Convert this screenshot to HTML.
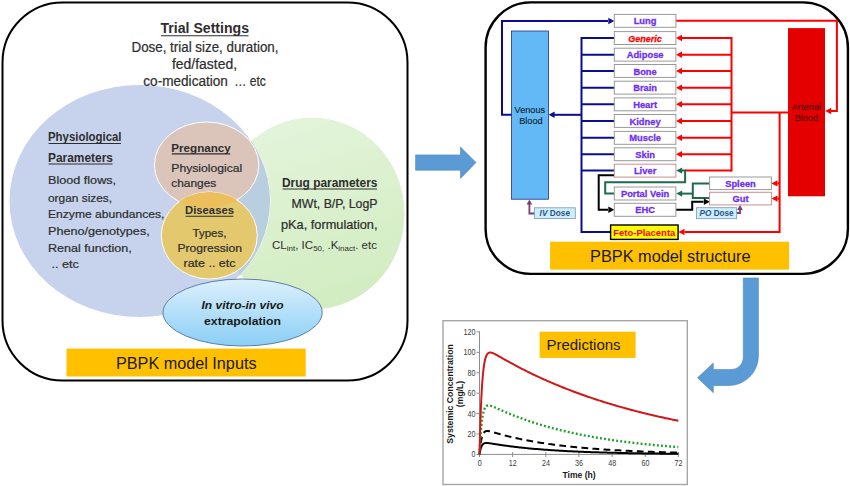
<!DOCTYPE html>
<html><head><meta charset="utf-8"><style>
html,body{margin:0;padding:0;background:#fff;}
svg{display:block;font-family:"Liberation Sans", sans-serif;}
.cal{stroke:#2E2E2E;stroke-width:0.22px;}
</style></head><body>
<svg width="850" height="486" viewBox="0 0 850 486">
<rect x="2.5" y="2.5" width="405" height="378" rx="60" ry="60" fill="#fff" stroke="#000" stroke-width="2"/>
<defs><clipPath id="cBlue"><ellipse cx="139.5" cy="201" rx="130.5" ry="116.5"/></clipPath><clipPath id="cPink"><ellipse cx="206.6" cy="165" rx="52.2" ry="43"/></clipPath><linearGradient id="gGreen" x1="0" y1="0" x2="0.3" y2="1"><stop offset="0" stop-color="#E5F5DD"/><stop offset="1" stop-color="#D3EDC3"/></linearGradient><linearGradient id="gIV" x1="0" y1="0" x2="0" y2="1"><stop offset="0" stop-color="#DDF0FC"/><stop offset="1" stop-color="#8ACFF6"/></linearGradient></defs>
<ellipse cx="312" cy="213.6" rx="93" ry="96.4" fill="url(#gGreen)" stroke="#fff" stroke-width="1"/>
<ellipse cx="139.5" cy="201" rx="130.5" ry="116.5" fill="#C7D3EC" stroke="#fff" stroke-width="1"/>
<ellipse cx="312" cy="213.6" rx="93" ry="96.4" fill="#B9CEDF" clip-path="url(#cBlue)"/>
<ellipse cx="206.6" cy="165" rx="52.2" ry="43" fill="#DBC5BB" stroke="#fff" stroke-width="1"/>
<ellipse cx="209.3" cy="235.5" rx="48" ry="43.5" fill="#E3C86E" stroke="#fff" stroke-width="1"/>
<ellipse cx="209.3" cy="235.5" rx="48" ry="43.5" fill="#EDBE5C" clip-path="url(#cPink)"/>
<ellipse cx="242.6" cy="312.5" rx="79.6" ry="33.5" fill="url(#gIV)" stroke="#5C7FA6" stroke-width="1"/>
<rect x="66.5" y="348.6" width="239.2" height="27.9" fill="#FFC000"/>
<text x="160.5" y="33.3" font-size="14.62" font-weight="bold" font-style="normal" fill="#2E2E2E" text-anchor="start" textLength="88.5" lengthAdjust="spacingAndGlyphs">Trial Settings</text>
<line x1="161" y1="35.8" x2="248.5" y2="35.8" stroke="#2E2E2E" stroke-width="1.1"/>
<text x="131.5" y="51.7" font-size="14.22" font-weight="normal" font-style="normal" fill="#2E2E2E" text-anchor="start" textLength="147.0" lengthAdjust="spacingAndGlyphs" class="cal">Dose, trial size, duration,</text>
<text x="172.0" y="68.9" font-size="14.22" font-weight="normal" font-style="normal" fill="#2E2E2E" text-anchor="start" textLength="65.0" lengthAdjust="spacingAndGlyphs" class="cal">fed/fasted,</text>
<text x="143.3" y="86.3" font-size="14.22" font-weight="normal" font-style="normal" fill="#2E2E2E" text-anchor="start" textLength="84.6" lengthAdjust="spacingAndGlyphs" class="cal">co-medication</text>
<text x="234.3" y="86.3" font-size="14.22" font-weight="normal" font-style="normal" fill="#2E2E2E" text-anchor="start" textLength="31.6" lengthAdjust="spacingAndGlyphs" class="cal">… etc</text>
<text x="48.0" y="141.4" font-size="11.95" font-weight="bold" font-style="normal" fill="#2E2E2E" text-anchor="start" textLength="73.5" lengthAdjust="spacingAndGlyphs">Physiological</text>
<line x1="48.6" y1="143.5" x2="121" y2="143.5" stroke="#2E2E2E" stroke-width="1.1"/>
<text x="48.0" y="162.0" font-size="11.95" font-weight="bold" font-style="normal" fill="#2E2E2E" text-anchor="start" textLength="65.0" lengthAdjust="spacingAndGlyphs">Parameters</text>
<line x1="48.6" y1="164" x2="112.5" y2="164" stroke="#2E2E2E" stroke-width="1.1"/>
<text x="48.0" y="184.1" font-size="11.75" font-weight="normal" font-style="normal" fill="#2E2E2E" text-anchor="start" textLength="68.1" lengthAdjust="spacingAndGlyphs" class="cal">Blood flows,</text>
<text x="48.0" y="201.5" font-size="11.75" font-weight="normal" font-style="normal" fill="#2E2E2E" text-anchor="start" textLength="64.1" lengthAdjust="spacingAndGlyphs" class="cal">organ sizes,</text>
<text x="48.0" y="218.1" font-size="11.75" font-weight="normal" font-style="normal" fill="#2E2E2E" text-anchor="start" textLength="116.5" lengthAdjust="spacingAndGlyphs" class="cal">Enzyme abundances,</text>
<text x="48.0" y="234.8" font-size="11.75" font-weight="normal" font-style="normal" fill="#2E2E2E" text-anchor="start" textLength="101.7" lengthAdjust="spacingAndGlyphs" class="cal">Pheno/genotypes,</text>
<text x="48.0" y="251.5" font-size="11.75" font-weight="normal" font-style="normal" fill="#2E2E2E" text-anchor="start" textLength="83.8" lengthAdjust="spacingAndGlyphs" class="cal">Renal function,</text>
<text x="51.5" y="267.8" font-size="11.75" font-weight="normal" font-style="normal" fill="#2E2E2E" text-anchor="start" textLength="27.3" lengthAdjust="spacingAndGlyphs" class="cal">.. etc</text>
<text x="171.3" y="151.7" font-size="11.53" font-weight="bold" font-style="normal" fill="#2E2E2E" text-anchor="start" textLength="59.5" lengthAdjust="spacingAndGlyphs">Pregnancy</text>
<line x1="171.8" y1="153.9" x2="230.2" y2="153.9" stroke="#2E2E2E" stroke-width="1.1"/>
<text x="171.3" y="172.4" font-size="11.53" font-weight="normal" font-style="normal" fill="#2E2E2E" text-anchor="start" textLength="71.0" lengthAdjust="spacingAndGlyphs" class="cal">Physiological</text>
<text x="171.3" y="186.5" font-size="11.53" font-weight="normal" font-style="normal" fill="#2E2E2E" text-anchor="start" textLength="45.0" lengthAdjust="spacingAndGlyphs" class="cal">changes</text>
<text x="185.0" y="213.9" font-size="11.53" font-weight="bold" font-style="normal" fill="#2E2E2E" text-anchor="start" textLength="49.0" lengthAdjust="spacingAndGlyphs">Diseases</text>
<line x1="185.6" y1="216.2" x2="233.4" y2="216.2" stroke="#2E2E2E" stroke-width="1.1"/>
<text x="192.5" y="237.0" font-size="11.53" font-weight="normal" font-style="normal" fill="#2E2E2E" text-anchor="start" textLength="34.0" lengthAdjust="spacingAndGlyphs" class="cal">Types,</text>
<text x="177.4" y="251.8" font-size="11.53" font-weight="normal" font-style="normal" fill="#2E2E2E" text-anchor="start" textLength="64.5" lengthAdjust="spacingAndGlyphs" class="cal">Progression</text>
<text x="183.5" y="266.6" font-size="11.53" font-weight="normal" font-style="normal" fill="#2E2E2E" text-anchor="start" textLength="52.0" lengthAdjust="spacingAndGlyphs" class="cal">rate .. etc</text>
<text x="282.0" y="187.2" font-size="11.95" font-weight="bold" font-style="normal" fill="#2E2E2E" text-anchor="start" textLength="95.5" lengthAdjust="spacingAndGlyphs">Drug parameters</text>
<line x1="282.6" y1="189" x2="377" y2="189" stroke="#2E2E2E" stroke-width="1.1"/>
<text x="377.5" y="208.0" font-size="11.95" font-weight="normal" font-style="normal" fill="#2E2E2E" text-anchor="end" textLength="86.0" lengthAdjust="spacingAndGlyphs" class="cal">MWt, B/P, LogP</text>
<text x="377.5" y="228.9" font-size="11.95" font-weight="normal" font-style="normal" fill="#2E2E2E" text-anchor="end" textLength="96.5" lengthAdjust="spacingAndGlyphs" class="cal">pKa, formulation,</text>
<text x="272" y="249.3" font-size="11.6" fill="#2E2E2E" textLength="105" lengthAdjust="spacingAndGlyphs">CL<tspan font-size="8" dy="1.8">int</tspan><tspan dy="-1.8">, IC</tspan><tspan font-size="8" dy="1.8">50,</tspan><tspan dy="-1.8"> .K</tspan><tspan font-size="8" dy="1.8">inact</tspan><tspan dy="-1.8">. etc</tspan></text>
<text x="201.5" y="309.0" font-size="11.74" font-weight="bold" font-style="italic" fill="#1a1a1a" text-anchor="start" textLength="82.0" lengthAdjust="spacingAndGlyphs">In vitro-in vivo</text>
<text x="204.0" y="324.8" font-size="11.74" font-weight="bold" font-style="normal" fill="#1a1a1a" text-anchor="start" textLength="77.0" lengthAdjust="spacingAndGlyphs">extrapolation</text>
<text x="116.0" y="368.6" font-size="15.76" font-weight="normal" font-style="normal" fill="#1a1a1a" text-anchor="start" textLength="140.5" lengthAdjust="spacingAndGlyphs">PBPK model Inputs</text>
<polygon points="415.6,154.9 460.5,154.9 460.5,147.1 476,162.5 460.5,178.4 460.5,170.2 415.6,170.2" fill="#5B9BD5" stroke="#4A84BC" stroke-width="0.6"/>
<rect x="485.6" y="2.4" width="362.3" height="271.5" rx="45" ry="45" fill="#fff" stroke="#000" stroke-width="2.4"/>
<rect x="550.1" y="241.7" width="239" height="27.9" fill="#FFC000"/>
<text x="590.0" y="261.8" font-size="15.76" font-weight="normal" font-style="normal" fill="#1a1a1a" text-anchor="start" textLength="160.5" lengthAdjust="spacingAndGlyphs">PBPK model structure</text>
<rect x="511.5" y="31" width="37" height="168.2" fill="#62B9F6" stroke="#2B2B90" stroke-width="0.8"/>
<text x="529.8" y="112.6" font-size="9.2" font-weight="normal" font-style="normal" fill="#142434" text-anchor="middle" textLength="30.5" lengthAdjust="spacingAndGlyphs" stroke="#142434" stroke-width="0.15">Venous</text>
<text x="530.9" y="123.5" font-size="9.2" font-weight="normal" font-style="normal" fill="#142434" text-anchor="middle" textLength="23.5" lengthAdjust="spacingAndGlyphs" stroke="#142434" stroke-width="0.15">Blood</text>
<rect x="788" y="28.1" width="37" height="168.2" fill="#E50000"/>
<text x="806.4" y="109.9" font-size="9.2" font-weight="normal" font-style="normal" fill="#400000" text-anchor="middle" textLength="29.5" lengthAdjust="spacingAndGlyphs">Arterial</text>
<text x="806.4" y="120.6" font-size="9.2" font-weight="normal" font-style="normal" fill="#400000" text-anchor="middle" textLength="23.5" lengthAdjust="spacingAndGlyphs">Blood</text>
<polyline points="511.5,114.8 502,114.8 502,21 608,21" fill="none" stroke="#0C0C90" stroke-width="2" stroke-linejoin="miter"/>
<polygon points="614.3,21.0 608.3,17.8 608.3,24.2" fill="#0C0C90"/>
<line x1="581.5" y1="37.0" x2="581.5" y2="233" stroke="#0C0C90" stroke-width="2"/>
<line x1="581.5" y1="38.0" x2="614.3" y2="38.0" stroke="#0C0C90" stroke-width="2"/>
<line x1="581.5" y1="54.7" x2="614.3" y2="54.7" stroke="#0C0C90" stroke-width="2"/>
<line x1="581.5" y1="71.0" x2="614.3" y2="71.0" stroke="#0C0C90" stroke-width="2"/>
<line x1="581.5" y1="87.65" x2="614.3" y2="87.65" stroke="#0C0C90" stroke-width="2"/>
<line x1="581.5" y1="104.35" x2="614.3" y2="104.35" stroke="#0C0C90" stroke-width="2"/>
<line x1="581.5" y1="121.0" x2="614.3" y2="121.0" stroke="#0C0C90" stroke-width="2"/>
<line x1="581.5" y1="137.8" x2="614.3" y2="137.8" stroke="#0C0C90" stroke-width="2"/>
<line x1="581.5" y1="154.2" x2="614.3" y2="154.2" stroke="#0C0C90" stroke-width="2"/>
<line x1="581.5" y1="170.6" x2="614.3" y2="170.6" stroke="#0C0C90" stroke-width="2"/>
<line x1="581.5" y1="232" x2="610.4" y2="232" stroke="#0C0C90" stroke-width="2"/>
<line x1="581.5" y1="114.8" x2="554" y2="114.8" stroke="#0C0C90" stroke-width="2"/>
<polygon points="548.6,114.8 554.6,111.6 554.6,118.0" fill="#0C0C90"/>
<polyline points="675.9,20.8 836.9,20.8 836.9,111 831,111" fill="none" stroke="#FF0000" stroke-width="2" stroke-linejoin="miter"/>
<polygon points="825.2,111.0 831.2,107.8 831.2,114.2" fill="#FF0000"/>
<line x1="731.5" y1="37.0" x2="731.5" y2="171.6" stroke="#FF0000" stroke-width="2"/>
<line x1="731.5" y1="38.0" x2="682" y2="38.0" stroke="#FF0000" stroke-width="2"/>
<polygon points="676.0,38.0 682.0,34.8 682.0,41.2" fill="#FF0000"/>
<line x1="731.5" y1="54.7" x2="682" y2="54.7" stroke="#FF0000" stroke-width="2"/>
<polygon points="676.0,54.7 682.0,51.5 682.0,57.9" fill="#FF0000"/>
<line x1="731.5" y1="71.0" x2="682" y2="71.0" stroke="#FF0000" stroke-width="2"/>
<polygon points="676.0,71.0 682.0,67.8 682.0,74.2" fill="#FF0000"/>
<line x1="731.5" y1="87.65" x2="682" y2="87.65" stroke="#FF0000" stroke-width="2"/>
<polygon points="676.0,87.7 682.0,84.5 682.0,90.9" fill="#FF0000"/>
<line x1="731.5" y1="104.35" x2="682" y2="104.35" stroke="#FF0000" stroke-width="2"/>
<polygon points="676.0,104.3 682.0,101.1 682.0,107.5" fill="#FF0000"/>
<line x1="731.5" y1="121.0" x2="682" y2="121.0" stroke="#FF0000" stroke-width="2"/>
<polygon points="676.0,121.0 682.0,117.8 682.0,124.2" fill="#FF0000"/>
<line x1="731.5" y1="137.8" x2="682" y2="137.8" stroke="#FF0000" stroke-width="2"/>
<polygon points="676.0,137.8 682.0,134.6 682.0,141.0" fill="#FF0000"/>
<line x1="731.5" y1="154.2" x2="682" y2="154.2" stroke="#FF0000" stroke-width="2"/>
<polygon points="676.0,154.2 682.0,151.0 682.0,157.4" fill="#FF0000"/>
<line x1="731.5" y1="170.6" x2="685" y2="170.6" stroke="#FF0000" stroke-width="2"/>
<line x1="788" y1="112.6" x2="731.5" y2="112.6" stroke="#FF0000" stroke-width="2"/>
<polyline points="779.6,112.6 779.6,232 684.5,232" fill="none" stroke="#FF0000" stroke-width="2" stroke-linejoin="miter"/>
<polygon points="678.5,232.0 684.5,228.8 684.5,235.2" fill="#FF0000"/>
<line x1="779.6" y1="183.4" x2="777.5" y2="183.4" stroke="#FF0000" stroke-width="2"/>
<polygon points="771.5,183.4 777.5,180.2 777.5,186.6" fill="#FF0000"/>
<line x1="779.6" y1="198.6" x2="777.5" y2="198.6" stroke="#FF0000" stroke-width="2"/>
<polygon points="771.5,198.6 777.5,195.4 777.5,201.8" fill="#FF0000"/>
<polyline points="614.3,193.5 605.2,193.5 605.2,182.3 685.1,182.3 685.1,170.6 682,170.6" fill="none" stroke="#1F6A4E" stroke-width="2" stroke-linejoin="miter"/>
<polygon points="676.2,170.6 682.2,167.4 682.2,173.8" fill="#1F6A4E"/>
<polyline points="709.6,183.5 692.8,183.5 692.8,198.1 709.6,198.1" fill="none" stroke="#1F6A4E" stroke-width="2" stroke-linejoin="miter"/>
<line x1="692.8" y1="193.6" x2="682" y2="193.6" stroke="#1F6A4E" stroke-width="2"/>
<polygon points="676.2,193.6 682.2,190.4 682.2,196.8" fill="#1F6A4E"/>
<polyline points="614.3,175.2 598.7,175.2 598.7,209.7 608,209.7" fill="none" stroke="#000" stroke-width="2" stroke-linejoin="miter"/>
<polygon points="614.3,209.7 608.3,206.5 608.3,212.9" fill="#000"/>
<polyline points="676,209.7 692.2,209.7 692.2,201.7 703.5,201.7" fill="none" stroke="#000" stroke-width="2" stroke-linejoin="miter"/>
<polygon points="709.8,201.7 703.8,198.5 703.8,204.9" fill="#000"/>
<rect x="614.3" y="14.4" width="61.6" height="12.9" fill="#fff" stroke="#999999" stroke-width="1"/>
<text x="645.1" y="24.4" font-size="9.8" font-weight="bold" font-style="normal" fill="#7030EE" text-anchor="middle" textLength="22.9" lengthAdjust="spacingAndGlyphs" stroke="#7030EE" stroke-width="0.3">Lung</text>
<rect x="614.3" y="31.6" width="61.6" height="12.9" fill="#fff" stroke="#999999" stroke-width="1"/>
<text x="645.1" y="41.6" font-size="9.8" font-weight="bold" font-style="italic" fill="#FF0000" text-anchor="middle" textLength="33.6" lengthAdjust="spacingAndGlyphs" stroke="#FF0000" stroke-width="0.3">Generic</text>
<rect x="614.3" y="48.2" width="61.6" height="12.9" fill="#fff" stroke="#999999" stroke-width="1"/>
<text x="645.1" y="58.3" font-size="9.8" font-weight="bold" font-style="normal" fill="#7030EE" text-anchor="middle" textLength="36.9" lengthAdjust="spacingAndGlyphs" stroke="#7030EE" stroke-width="0.3">Adipose</text>
<rect x="614.3" y="64.5" width="61.6" height="12.9" fill="#fff" stroke="#999999" stroke-width="1"/>
<text x="645.1" y="74.6" font-size="9.8" font-weight="bold" font-style="normal" fill="#7030EE" text-anchor="middle" textLength="23.4" lengthAdjust="spacingAndGlyphs" stroke="#7030EE" stroke-width="0.3">Bone</text>
<rect x="614.3" y="81.2" width="61.6" height="12.9" fill="#fff" stroke="#999999" stroke-width="1"/>
<text x="645.1" y="91.2" font-size="9.8" font-weight="bold" font-style="normal" fill="#7030EE" text-anchor="middle" textLength="23.9" lengthAdjust="spacingAndGlyphs" stroke="#7030EE" stroke-width="0.3">Brain</text>
<rect x="614.3" y="97.9" width="61.6" height="12.9" fill="#fff" stroke="#999999" stroke-width="1"/>
<text x="645.1" y="107.9" font-size="9.8" font-weight="bold" font-style="normal" fill="#7030EE" text-anchor="middle" textLength="23.9" lengthAdjust="spacingAndGlyphs" stroke="#7030EE" stroke-width="0.3">Heart</text>
<rect x="614.3" y="114.5" width="61.6" height="12.9" fill="#fff" stroke="#999999" stroke-width="1"/>
<text x="645.1" y="124.6" font-size="9.8" font-weight="bold" font-style="normal" fill="#7030EE" text-anchor="middle" textLength="31.2" lengthAdjust="spacingAndGlyphs" stroke="#7030EE" stroke-width="0.3">Kidney</text>
<rect x="614.3" y="131.4" width="61.6" height="12.9" fill="#fff" stroke="#999999" stroke-width="1"/>
<text x="645.1" y="141.4" font-size="9.8" font-weight="bold" font-style="normal" fill="#7030EE" text-anchor="middle" textLength="31.7" lengthAdjust="spacingAndGlyphs" stroke="#7030EE" stroke-width="0.3">Muscle</text>
<rect x="614.3" y="147.8" width="61.6" height="12.9" fill="#fff" stroke="#999999" stroke-width="1"/>
<text x="645.1" y="157.8" font-size="9.8" font-weight="bold" font-style="normal" fill="#7030EE" text-anchor="middle" textLength="19.8" lengthAdjust="spacingAndGlyphs" stroke="#7030EE" stroke-width="0.3">Skin</text>
<rect x="614.3" y="164.2" width="61.6" height="12.9" fill="#fff" stroke="#C89090" stroke-width="1"/>
<text x="645.1" y="174.2" font-size="9.8" font-weight="bold" font-style="normal" fill="#7030EE" text-anchor="middle" textLength="22.4" lengthAdjust="spacingAndGlyphs" stroke="#7030EE" stroke-width="0.3">Liver</text>
<rect x="614.3" y="187.0" width="61.6" height="13.0" fill="#fff" stroke="#999999" stroke-width="1"/>
<text x="645.1" y="197.1" font-size="9.8" font-weight="bold" font-style="normal" fill="#7030EE" text-anchor="middle" textLength="48.4" lengthAdjust="spacingAndGlyphs" stroke="#7030EE" stroke-width="0.3">Portal Vein</text>
<rect x="614.3" y="203.3" width="61.6" height="13.0" fill="#fff" stroke="#999999" stroke-width="1"/>
<text x="645.1" y="213.4" font-size="9.8" font-weight="bold" font-style="normal" fill="#7030EE" text-anchor="middle" textLength="19.8" lengthAdjust="spacingAndGlyphs" stroke="#7030EE" stroke-width="0.3">EHC</text>
<rect x="610.6" y="225" width="67.5" height="14.4" fill="#FFFF00" stroke="#000" stroke-width="1.4"/>
<text x="644.3" y="235.9" font-size="9.6" font-weight="bold" font-style="normal" fill="#FF0000" text-anchor="middle" textLength="62.0" lengthAdjust="spacingAndGlyphs">Feto-Placenta</text>
<rect x="709.6" y="177.0" width="61.8" height="12.6" fill="#fff" stroke="#999999" stroke-width="1"/>
<text x="740.5" y="187.0" font-size="9.8" font-weight="bold" font-style="normal" fill="#7030EE" text-anchor="middle" textLength="30.7" lengthAdjust="spacingAndGlyphs" stroke="#7030EE" stroke-width="0.3">Spleen</text>
<rect x="709.6" y="192.3" width="61.8" height="12.6" fill="#fff" stroke="#C89090" stroke-width="1"/>
<text x="740.5" y="202.3" font-size="9.8" font-weight="bold" font-style="normal" fill="#7030EE" text-anchor="middle" textLength="16.1" lengthAdjust="spacingAndGlyphs" stroke="#7030EE" stroke-width="0.3">Gut</text>
<rect x="534.3" y="207.8" width="41" height="10.7" fill="#CDEFFA" stroke="#7A9AAA" stroke-width="0.8"/>
<text x="554.8" y="216.3" font-size="8.3" font-weight="bold" fill="#2F4F8F" text-anchor="middle"><tspan font-style="italic">IV</tspan> Dose</text>
<rect x="696.5" y="207.7" width="40.2" height="11" fill="#CDEFFA" stroke="#7A9AAA" stroke-width="0.8"/>
<text x="716.6" y="216.3" font-size="8.2" font-weight="bold" fill="#2F4F8F" text-anchor="middle"><tspan font-style="italic">PO</tspan> Dose</text>
<polyline points="534.3,213.5 529.4,213.5 529.4,204" fill="none" stroke="#7F3A78" stroke-width="1.8" stroke-linejoin="miter"/>
<polygon points="529.4,199.5 526.6,204.5 532.2,204.5" fill="#7F3A78"/>
<polyline points="737,213 740,213 740,209" fill="none" stroke="#7F3A78" stroke-width="1.8" stroke-linejoin="miter"/>
<polygon points="740.0,205.0 737.2,210.0 742.8,210.0" fill="#7F3A78"/>
<path d="M743.3,278 L758.4,278 L758.4,356 A29.5,29.5 0 0 1 728.9,385.5 L713.3,385.5 L713.3,392.7 L697.5,377.8 L713.3,363.1 L713.3,369.6 L731.3,369.6 A12,12 0 0 0 743.3,357.6 Z" fill="#5B9BD5" stroke="#4A84BC" stroke-width="0.6"/>
<rect x="443" y="320.7" width="244.3" height="163.8" fill="#fff" stroke="#A6A6A6" stroke-width="1.4"/>
<rect x="539.6" y="331.7" width="96" height="26.2" fill="#FFC000"/>
<text x="546.5" y="350.4" font-size="15" font-weight="normal" font-style="normal" fill="#1a1a1a" text-anchor="start" textLength="74.0" lengthAdjust="spacingAndGlyphs">Predictions</text>
<line x1="479.5" y1="331.5" x2="479.5" y2="454.4" stroke="#8C8C8C" stroke-width="1"/>
<line x1="479.5" y1="454.4" x2="679" y2="454.4" stroke="#8C8C8C" stroke-width="1"/>
<line x1="476.5" y1="454.4" x2="479.5" y2="454.4" stroke="#8C8C8C" stroke-width="1"/>
<text x="475.6" y="457.3" font-size="8.2" font-weight="normal" font-style="normal" fill="#3A3A3A" text-anchor="end" textLength="4.0" lengthAdjust="spacingAndGlyphs">0</text>
<line x1="476.5" y1="433.984" x2="479.5" y2="433.984" stroke="#8C8C8C" stroke-width="1"/>
<text x="475.6" y="436.9" font-size="8.2" font-weight="normal" font-style="normal" fill="#3A3A3A" text-anchor="end" textLength="8.0" lengthAdjust="spacingAndGlyphs">20</text>
<line x1="476.5" y1="413.568" x2="479.5" y2="413.568" stroke="#8C8C8C" stroke-width="1"/>
<text x="475.6" y="416.5" font-size="8.2" font-weight="normal" font-style="normal" fill="#3A3A3A" text-anchor="end" textLength="8.0" lengthAdjust="spacingAndGlyphs">40</text>
<line x1="476.5" y1="393.152" x2="479.5" y2="393.152" stroke="#8C8C8C" stroke-width="1"/>
<text x="475.6" y="396.1" font-size="8.2" font-weight="normal" font-style="normal" fill="#3A3A3A" text-anchor="end" textLength="8.0" lengthAdjust="spacingAndGlyphs">60</text>
<line x1="476.5" y1="372.736" x2="479.5" y2="372.736" stroke="#8C8C8C" stroke-width="1"/>
<text x="475.6" y="375.7" font-size="8.2" font-weight="normal" font-style="normal" fill="#3A3A3A" text-anchor="end" textLength="8.0" lengthAdjust="spacingAndGlyphs">80</text>
<line x1="476.5" y1="352.32" x2="479.5" y2="352.32" stroke="#8C8C8C" stroke-width="1"/>
<text x="475.6" y="355.3" font-size="8.2" font-weight="normal" font-style="normal" fill="#3A3A3A" text-anchor="end" textLength="12.0" lengthAdjust="spacingAndGlyphs">100</text>
<line x1="476.5" y1="331.904" x2="479.5" y2="331.904" stroke="#8C8C8C" stroke-width="1"/>
<text x="475.6" y="334.9" font-size="8.2" font-weight="normal" font-style="normal" fill="#3A3A3A" text-anchor="end" textLength="12.0" lengthAdjust="spacingAndGlyphs">120</text>
<line x1="479.5" y1="452" x2="479.5" y2="457" stroke="#8C8C8C" stroke-width="1"/>
<text x="479.7" y="465.9" font-size="8.2" font-weight="normal" font-style="normal" fill="#3A3A3A" text-anchor="middle" textLength="4.0" lengthAdjust="spacingAndGlyphs">0</text>
<line x1="512.644" y1="452" x2="512.644" y2="457" stroke="#8C8C8C" stroke-width="1"/>
<text x="512.8" y="465.9" font-size="8.2" font-weight="normal" font-style="normal" fill="#3A3A3A" text-anchor="middle" textLength="8.0" lengthAdjust="spacingAndGlyphs">12</text>
<line x1="545.788" y1="452" x2="545.788" y2="457" stroke="#8C8C8C" stroke-width="1"/>
<text x="546.0" y="465.9" font-size="8.2" font-weight="normal" font-style="normal" fill="#3A3A3A" text-anchor="middle" textLength="8.0" lengthAdjust="spacingAndGlyphs">24</text>
<line x1="578.932" y1="452" x2="578.932" y2="457" stroke="#8C8C8C" stroke-width="1"/>
<text x="579.1" y="465.9" font-size="8.2" font-weight="normal" font-style="normal" fill="#3A3A3A" text-anchor="middle" textLength="8.0" lengthAdjust="spacingAndGlyphs">36</text>
<line x1="612.076" y1="452" x2="612.076" y2="457" stroke="#8C8C8C" stroke-width="1"/>
<text x="612.3" y="465.9" font-size="8.2" font-weight="normal" font-style="normal" fill="#3A3A3A" text-anchor="middle" textLength="8.0" lengthAdjust="spacingAndGlyphs">48</text>
<line x1="645.22" y1="452" x2="645.22" y2="457" stroke="#8C8C8C" stroke-width="1"/>
<text x="645.4" y="465.9" font-size="8.2" font-weight="normal" font-style="normal" fill="#3A3A3A" text-anchor="middle" textLength="8.0" lengthAdjust="spacingAndGlyphs">60</text>
<line x1="678.364" y1="452" x2="678.364" y2="457" stroke="#8C8C8C" stroke-width="1"/>
<text x="678.6" y="465.9" font-size="8.2" font-weight="normal" font-style="normal" fill="#3A3A3A" text-anchor="middle" textLength="8.0" lengthAdjust="spacingAndGlyphs">72</text>
<text x="579.1" y="477.9" font-size="8.6" font-weight="bold" font-style="normal" fill="#1a1a1a" text-anchor="middle">Time (h)</text>
<text transform="translate(452.9,394) rotate(-90)" font-size="8.6" font-weight="bold" fill="#1a1a1a" text-anchor="middle" textLength="99.5" lengthAdjust="spacingAndGlyphs">Systemic Concentration</text>
<text transform="translate(463.1,394) rotate(-90)" font-size="8.6" font-weight="bold" fill="#1a1a1a" text-anchor="middle">(mg/L)</text>
<path d="M479.50,454.40 L479.64,453.54 L479.78,452.74 L479.91,451.99 L480.05,451.30 L480.19,450.66 L480.33,450.06 L480.47,449.50 L480.60,448.98 L480.74,448.50 L480.88,448.06 L481.02,447.65 L481.16,447.26 L481.30,446.91 L481.43,446.57 L481.57,446.27 L481.71,445.99 L481.85,445.72 L481.99,445.48 L482.12,445.25 L482.26,445.05 L482.40,444.85 L482.54,444.68 L482.68,444.51 L482.81,444.36 L482.95,444.22 L483.09,444.10 L483.23,443.98 L483.37,443.87 L483.50,443.77 L483.64,443.68 L483.78,443.60 L483.92,443.53 L484.06,443.46 L484.20,443.40 L484.33,443.34 L484.47,443.29 L484.61,443.25 L484.75,443.21 L484.89,443.17 L485.02,443.14 L485.16,443.11 L485.30,443.09 L485.44,443.07 L485.58,443.05 L485.71,443.03 L485.85,443.02 L485.99,443.01 L486.13,443.00 L486.27,443.00 L486.40,443.00 L486.54,442.99 L486.68,442.99 L486.82,443.00 L486.96,443.00 L487.10,443.01 L487.23,443.01 L487.37,443.02 L487.51,443.03 L487.65,443.04 L487.79,443.05 L487.92,443.06 L488.06,443.07 L488.20,443.09 L488.34,443.10 L488.48,443.12 L488.61,443.13 L488.75,443.15 L488.89,443.16 L489.03,443.18 L489.17,443.20 L489.31,443.22 L489.44,443.23 L489.58,443.25 L489.72,443.27 L489.86,443.29 L490.00,443.31 L490.13,443.33 L490.27,443.35 L490.41,443.37 L490.55,443.39 L490.69,443.41 L490.82,443.43 L490.96,443.45 L491.10,443.48 L491.24,443.50 L491.38,443.52 L491.51,443.54 L491.65,443.56 L491.79,443.58 L491.93,443.61 L492.07,443.63 L492.21,443.65 L492.34,443.67 L492.48,443.69 L492.62,443.72 L492.76,443.74 L492.90,443.76 L493.03,443.78 L493.17,443.80 L493.31,443.83 L493.45,443.85 L493.59,443.87 L493.72,443.89 L493.86,443.91 L494.00,443.94 L494.14,443.96 L494.28,443.98 L494.41,444.00 L494.55,444.03 L494.69,444.05 L494.83,444.07 L494.97,444.09 L495.11,444.11 L495.24,444.14 L495.38,444.16 L495.52,444.18 L495.66,444.20 L495.80,444.22 L495.93,444.25 L496.07,444.27 L496.21,444.29 L496.35,444.31 L496.49,444.33 L496.62,444.35 L496.76,444.38 L496.90,444.40 L497.04,444.42 L497.18,444.44 L497.31,444.46 L497.45,444.48 L497.59,444.51 L497.73,444.53 L497.87,444.55 L498.01,444.57 L498.14,444.59 L498.28,444.61 L498.42,444.63 L498.56,444.65 L498.70,444.68 L498.83,444.70 L498.97,444.72 L499.11,444.74 L499.25,444.76 L499.39,444.78 L499.52,444.80 L499.66,444.82 L499.80,444.84 L499.94,444.86 L500.08,444.88 L500.21,444.91 L500.35,444.93 L500.49,444.95 L500.63,444.97 L500.77,444.99 L500.91,445.01 L501.04,445.03 L501.18,445.05 L501.32,445.07 L501.46,445.09 L501.60,445.11 L501.73,445.13 L501.87,445.15 L502.01,445.17 L502.15,445.19 L502.29,445.21 L502.42,445.23 L502.56,445.25 L502.70,445.27 L502.84,445.29 L502.98,445.31 L503.12,445.33 L503.25,445.35 L503.39,445.37 L503.53,445.39 L503.67,445.41 L503.81,445.43 L503.94,445.45 L504.08,445.47 L504.22,445.49 L504.36,445.50 L504.50,445.52 L504.63,445.54 L504.77,445.56 L504.91,445.58 L505.05,445.60 L505.19,445.62 L505.32,445.64 L505.46,445.66 L505.60,445.68 L505.74,445.70 L505.88,445.71 L506.02,445.73 L506.15,445.75 L506.29,445.77 L506.43,445.79 L506.57,445.81 L506.71,445.83 L506.84,445.85 L506.98,445.86 L507.12,445.88 L508.50,446.07 L509.88,446.25 L511.26,446.42 L512.64,446.59 L514.02,446.76 L515.41,446.93 L516.79,447.09 L518.17,447.24 L519.55,447.40 L520.93,447.55 L522.31,447.70 L523.69,447.84 L525.07,447.98 L526.45,448.12 L527.84,448.25 L529.22,448.39 L530.60,448.52 L531.98,448.64 L533.36,448.77 L534.74,448.89 L536.12,449.01 L537.50,449.12 L538.88,449.24 L540.26,449.35 L541.64,449.46 L543.03,449.56 L544.41,449.67 L545.79,449.77 L547.17,449.87 L548.55,449.96 L549.93,450.06 L551.31,450.15 L552.69,450.25 L554.07,450.33 L555.46,450.42 L556.84,450.51 L558.22,450.59 L559.60,450.67 L560.98,450.75 L562.36,450.83 L563.74,450.91 L565.12,450.98 L566.50,451.06 L567.88,451.13 L569.26,451.20 L570.65,451.27 L572.03,451.34 L573.41,451.40 L574.79,451.47 L576.17,451.53 L577.55,451.59 L578.93,451.65 L580.31,451.71 L581.69,451.77 L583.08,451.83 L584.46,451.88 L585.84,451.93 L587.22,451.99 L588.60,452.04 L589.98,452.09 L591.36,452.14 L592.74,452.19 L594.12,452.24 L595.50,452.28 L596.88,452.33 L598.27,452.37 L599.65,452.42 L601.03,452.46 L602.41,452.50 L603.79,452.54 L605.17,452.58 L606.55,452.62 L607.93,452.66 L609.31,452.70 L610.69,452.73 L612.08,452.77 L613.46,452.80 L614.84,452.84 L616.22,452.87 L617.60,452.91 L618.98,452.94 L620.36,452.97 L621.74,453.00 L623.12,453.03 L624.50,453.06 L625.89,453.09 L627.27,453.12 L628.65,453.14 L630.03,453.17 L631.41,453.20 L632.79,453.22 L634.17,453.25 L635.55,453.27 L636.93,453.30 L638.32,453.32 L639.70,453.34 L641.08,453.37 L642.46,453.39 L643.84,453.41 L645.22,453.43 L646.60,453.45 L647.98,453.47 L649.36,453.49 L650.74,453.51 L652.12,453.53 L653.51,453.55 L654.89,453.57 L656.27,453.59 L657.65,453.60 L659.03,453.62 L660.41,453.64 L661.79,453.65 L663.17,453.67 L664.55,453.69 L665.93,453.70 L667.32,453.72 L668.70,453.73 L670.08,453.75 L671.46,453.76 L672.84,453.77 L674.22,453.79 L675.60,453.80 L676.98,453.81 L678.36,453.83" fill="none" stroke="#000" stroke-width="2"/>
<path d="M479.50,454.40 L479.64,452.77 L479.78,451.24 L479.91,449.81 L480.05,448.48 L480.19,447.23 L480.33,446.06 L480.47,444.97 L480.60,443.95 L480.74,443.00 L480.88,442.11 L481.02,441.28 L481.16,440.51 L481.30,439.79 L481.43,439.11 L481.57,438.48 L481.71,437.90 L481.85,437.35 L481.99,436.84 L482.12,436.37 L482.26,435.93 L482.40,435.52 L482.54,435.14 L482.68,434.78 L482.81,434.45 L482.95,434.15 L483.09,433.86 L483.23,433.60 L483.37,433.36 L483.50,433.13 L483.64,432.92 L483.78,432.73 L483.92,432.55 L484.06,432.39 L484.20,432.24 L484.33,432.10 L484.47,431.98 L484.61,431.86 L484.75,431.76 L484.89,431.66 L485.02,431.57 L485.16,431.50 L485.30,431.42 L485.44,431.36 L485.58,431.30 L485.71,431.25 L485.85,431.21 L485.99,431.17 L486.13,431.14 L486.27,431.11 L486.40,431.09 L486.54,431.07 L486.68,431.05 L486.82,431.04 L486.96,431.03 L487.10,431.02 L487.23,431.02 L487.37,431.02 L487.51,431.03 L487.65,431.03 L487.79,431.04 L487.92,431.05 L488.06,431.07 L488.20,431.08 L488.34,431.10 L488.48,431.11 L488.61,431.13 L488.75,431.16 L488.89,431.18 L489.03,431.20 L489.17,431.23 L489.31,431.25 L489.44,431.28 L489.58,431.31 L489.72,431.34 L489.86,431.37 L490.00,431.40 L490.13,431.43 L490.27,431.46 L490.41,431.49 L490.55,431.53 L490.69,431.56 L490.82,431.60 L490.96,431.63 L491.10,431.67 L491.24,431.70 L491.38,431.74 L491.51,431.77 L491.65,431.81 L491.79,431.85 L491.93,431.89 L492.07,431.92 L492.21,431.96 L492.34,432.00 L492.48,432.04 L492.62,432.07 L492.76,432.11 L492.90,432.15 L493.03,432.19 L493.17,432.23 L493.31,432.27 L493.45,432.31 L493.59,432.35 L493.72,432.39 L493.86,432.42 L494.00,432.46 L494.14,432.50 L494.28,432.54 L494.41,432.58 L494.55,432.62 L494.69,432.66 L494.83,432.70 L494.97,432.74 L495.11,432.78 L495.24,432.82 L495.38,432.86 L495.52,432.90 L495.66,432.94 L495.80,432.98 L495.93,433.02 L496.07,433.05 L496.21,433.09 L496.35,433.13 L496.49,433.17 L496.62,433.21 L496.76,433.25 L496.90,433.29 L497.04,433.33 L497.18,433.37 L497.31,433.41 L497.45,433.45 L497.59,433.49 L497.73,433.52 L497.87,433.56 L498.01,433.60 L498.14,433.64 L498.28,433.68 L498.42,433.72 L498.56,433.76 L498.70,433.79 L498.83,433.83 L498.97,433.87 L499.11,433.91 L499.25,433.95 L499.39,433.99 L499.52,434.02 L499.66,434.06 L499.80,434.10 L499.94,434.14 L500.08,434.18 L500.21,434.21 L500.35,434.25 L500.49,434.29 L500.63,434.33 L500.77,434.36 L500.91,434.40 L501.04,434.44 L501.18,434.48 L501.32,434.51 L501.46,434.55 L501.60,434.59 L501.73,434.62 L501.87,434.66 L502.01,434.70 L502.15,434.74 L502.29,434.77 L502.42,434.81 L502.56,434.85 L502.70,434.88 L502.84,434.92 L502.98,434.96 L503.12,434.99 L503.25,435.03 L503.39,435.06 L503.53,435.10 L503.67,435.14 L503.81,435.17 L503.94,435.21 L504.08,435.24 L504.22,435.28 L504.36,435.32 L504.50,435.35 L504.63,435.39 L504.77,435.42 L504.91,435.46 L505.05,435.49 L505.19,435.53 L505.32,435.57 L505.46,435.60 L505.60,435.64 L505.74,435.67 L505.88,435.71 L506.02,435.74 L506.15,435.78 L506.29,435.81 L506.43,435.85 L506.57,435.88 L506.71,435.91 L506.84,435.95 L506.98,435.98 L507.12,436.02 L508.50,436.36 L509.88,436.70 L511.26,437.02 L512.64,437.35 L514.02,437.66 L515.41,437.97 L516.79,438.28 L518.17,438.58 L519.55,438.87 L520.93,439.16 L522.31,439.44 L523.69,439.72 L525.07,439.99 L526.45,440.26 L527.84,440.52 L529.22,440.78 L530.60,441.04 L531.98,441.28 L533.36,441.53 L534.74,441.77 L536.12,442.00 L537.50,442.23 L538.88,442.46 L540.26,442.68 L541.64,442.90 L543.03,443.11 L544.41,443.32 L545.79,443.53 L547.17,443.73 L548.55,443.93 L549.93,444.12 L551.31,444.31 L552.69,444.50 L554.07,444.68 L555.46,444.86 L556.84,445.04 L558.22,445.21 L559.60,445.39 L560.98,445.55 L562.36,445.72 L563.74,445.88 L565.12,446.04 L566.50,446.19 L567.88,446.34 L569.26,446.49 L570.65,446.64 L572.03,446.79 L573.41,446.93 L574.79,447.07 L576.17,447.20 L577.55,447.34 L578.93,447.47 L580.31,447.60 L581.69,447.72 L583.08,447.85 L584.46,447.97 L585.84,448.09 L587.22,448.20 L588.60,448.32 L589.98,448.43 L591.36,448.54 L592.74,448.65 L594.12,448.76 L595.50,448.86 L596.88,448.97 L598.27,449.07 L599.65,449.17 L601.03,449.26 L602.41,449.36 L603.79,449.45 L605.17,449.54 L606.55,449.63 L607.93,449.72 L609.31,449.81 L610.69,449.90 L612.08,449.98 L613.46,450.06 L614.84,450.14 L616.22,450.22 L617.60,450.30 L618.98,450.37 L620.36,450.45 L621.74,450.52 L623.12,450.59 L624.50,450.67 L625.89,450.73 L627.27,450.80 L628.65,450.87 L630.03,450.94 L631.41,451.00 L632.79,451.06 L634.17,451.12 L635.55,451.19 L636.93,451.25 L638.32,451.30 L639.70,451.36 L641.08,451.42 L642.46,451.47 L643.84,451.53 L645.22,451.58 L646.60,451.63 L647.98,451.68 L649.36,451.74 L650.74,451.78 L652.12,451.83 L653.51,451.88 L654.89,451.93 L656.27,451.97 L657.65,452.02 L659.03,452.06 L660.41,452.11 L661.79,452.15 L663.17,452.19 L664.55,452.23 L665.93,452.27 L667.32,452.31 L668.70,452.35 L670.08,452.39 L671.46,452.43 L672.84,452.46 L674.22,452.50 L675.60,452.53 L676.98,452.57 L678.36,452.60" fill="none" stroke="#000" stroke-width="2" stroke-dasharray="6.8,4.3"/>
<path d="M479.50,454.40 L479.64,451.40 L479.78,448.57 L479.91,445.91 L480.05,443.40 L480.19,441.03 L480.33,438.80 L480.47,436.70 L480.60,434.71 L480.74,432.85 L480.88,431.09 L481.02,429.44 L481.16,427.88 L481.30,426.41 L481.43,425.03 L481.57,423.73 L481.71,422.51 L481.85,421.36 L481.99,420.27 L482.12,419.26 L482.26,418.30 L482.40,417.40 L482.54,416.56 L482.68,415.76 L482.81,415.02 L482.95,414.32 L483.09,413.66 L483.23,413.05 L483.37,412.47 L483.50,411.93 L483.64,411.42 L483.78,410.95 L483.92,410.50 L484.06,410.09 L484.20,409.70 L484.33,409.34 L484.47,409.00 L484.61,408.69 L484.75,408.39 L484.89,408.12 L485.02,407.87 L485.16,407.63 L485.30,407.41 L485.44,407.21 L485.58,407.02 L485.71,406.85 L485.85,406.69 L485.99,406.54 L486.13,406.41 L486.27,406.29 L486.40,406.18 L486.54,406.07 L486.68,405.98 L486.82,405.90 L486.96,405.82 L487.10,405.76 L487.23,405.70 L487.37,405.65 L487.51,405.60 L487.65,405.56 L487.79,405.53 L487.92,405.50 L488.06,405.48 L488.20,405.47 L488.34,405.45 L488.48,405.45 L488.61,405.44 L488.75,405.45 L488.89,405.45 L489.03,405.46 L489.17,405.47 L489.31,405.49 L489.44,405.50 L489.58,405.52 L489.72,405.55 L489.86,405.57 L490.00,405.60 L490.13,405.63 L490.27,405.66 L490.41,405.70 L490.55,405.73 L490.69,405.77 L490.82,405.81 L490.96,405.85 L491.10,405.90 L491.24,405.94 L491.38,405.98 L491.51,406.03 L491.65,406.08 L491.79,406.13 L491.93,406.18 L492.07,406.23 L492.21,406.28 L492.34,406.33 L492.48,406.38 L492.62,406.44 L492.76,406.49 L492.90,406.55 L493.03,406.60 L493.17,406.66 L493.31,406.72 L493.45,406.77 L493.59,406.83 L493.72,406.89 L493.86,406.95 L494.00,407.01 L494.14,407.06 L494.28,407.12 L494.41,407.18 L494.55,407.24 L494.69,407.30 L494.83,407.36 L494.97,407.43 L495.11,407.49 L495.24,407.55 L495.38,407.61 L495.52,407.67 L495.66,407.73 L495.80,407.79 L495.93,407.86 L496.07,407.92 L496.21,407.98 L496.35,408.04 L496.49,408.10 L496.62,408.17 L496.76,408.23 L496.90,408.29 L497.04,408.35 L497.18,408.42 L497.31,408.48 L497.45,408.54 L497.59,408.60 L497.73,408.66 L497.87,408.73 L498.01,408.79 L498.14,408.85 L498.28,408.91 L498.42,408.98 L498.56,409.04 L498.70,409.10 L498.83,409.16 L498.97,409.23 L499.11,409.29 L499.25,409.35 L499.39,409.41 L499.52,409.48 L499.66,409.54 L499.80,409.60 L499.94,409.66 L500.08,409.72 L500.21,409.79 L500.35,409.85 L500.49,409.91 L500.63,409.97 L500.77,410.03 L500.91,410.09 L501.04,410.16 L501.18,410.22 L501.32,410.28 L501.46,410.34 L501.60,410.40 L501.73,410.46 L501.87,410.52 L502.01,410.59 L502.15,410.65 L502.29,410.71 L502.42,410.77 L502.56,410.83 L502.70,410.89 L502.84,410.95 L502.98,411.01 L503.12,411.07 L503.25,411.13 L503.39,411.19 L503.53,411.25 L503.67,411.31 L503.81,411.37 L503.94,411.43 L504.08,411.49 L504.22,411.55 L504.36,411.61 L504.50,411.67 L504.63,411.73 L504.77,411.79 L504.91,411.85 L505.05,411.91 L505.19,411.97 L505.32,412.03 L505.46,412.09 L505.60,412.15 L505.74,412.21 L505.88,412.27 L506.02,412.33 L506.15,412.38 L506.29,412.44 L506.43,412.50 L506.57,412.56 L506.71,412.62 L506.84,412.68 L506.98,412.74 L507.12,412.79 L508.50,413.37 L509.88,413.94 L511.26,414.50 L512.64,415.06 L514.02,415.61 L515.41,416.15 L516.79,416.68 L518.17,417.20 L519.55,417.72 L520.93,418.23 L522.31,418.73 L523.69,419.23 L525.07,419.72 L526.45,420.20 L527.84,420.67 L529.22,421.14 L530.60,421.61 L531.98,422.06 L533.36,422.51 L534.74,422.95 L536.12,423.39 L537.50,423.82 L538.88,424.25 L540.26,424.67 L541.64,425.08 L543.03,425.49 L544.41,425.89 L545.79,426.29 L547.17,426.68 L548.55,427.06 L549.93,427.44 L551.31,427.82 L552.69,428.19 L554.07,428.55 L555.46,428.91 L556.84,429.26 L558.22,429.61 L559.60,429.96 L560.98,430.30 L562.36,430.63 L563.74,430.96 L565.12,431.29 L566.50,431.61 L567.88,431.93 L569.26,432.24 L570.65,432.55 L572.03,432.85 L573.41,433.15 L574.79,433.45 L576.17,433.74 L577.55,434.03 L578.93,434.31 L580.31,434.59 L581.69,434.86 L583.08,435.14 L584.46,435.40 L585.84,435.67 L587.22,435.93 L588.60,436.18 L589.98,436.44 L591.36,436.69 L592.74,436.93 L594.12,437.18 L595.50,437.42 L596.88,437.65 L598.27,437.88 L599.65,438.11 L601.03,438.34 L602.41,438.56 L603.79,438.78 L605.17,439.00 L606.55,439.22 L607.93,439.43 L609.31,439.63 L610.69,439.84 L612.08,440.04 L613.46,440.24 L614.84,440.44 L616.22,440.63 L617.60,440.82 L618.98,441.01 L620.36,441.20 L621.74,441.38 L623.12,441.56 L624.50,441.74 L625.89,441.92 L627.27,442.09 L628.65,442.26 L630.03,442.43 L631.41,442.60 L632.79,442.76 L634.17,442.92 L635.55,443.08 L636.93,443.24 L638.32,443.40 L639.70,443.55 L641.08,443.70 L642.46,443.85 L643.84,444.00 L645.22,444.14 L646.60,444.28 L647.98,444.42 L649.36,444.56 L650.74,444.70 L652.12,444.83 L653.51,444.97 L654.89,445.10 L656.27,445.23 L657.65,445.35 L659.03,445.48 L660.41,445.60 L661.79,445.73 L663.17,445.85 L664.55,445.97 L665.93,446.08 L667.32,446.20 L668.70,446.31 L670.08,446.43 L671.46,446.54 L672.84,446.65 L674.22,446.75 L675.60,446.86 L676.98,446.96 L678.36,447.07" fill="none" stroke="#1FA02A" stroke-width="2.4" stroke-dasharray="1.9,2.2"/>
<path d="M479.50,454.40 L479.64,448.59 L479.78,443.10 L479.91,437.90 L480.05,432.99 L480.19,428.35 L480.33,423.96 L480.47,419.81 L480.60,415.88 L480.74,412.17 L480.88,408.67 L481.02,405.35 L481.16,402.22 L481.30,399.26 L481.43,396.47 L481.57,393.82 L481.71,391.33 L481.85,388.97 L481.99,386.74 L482.12,384.64 L482.26,382.66 L482.40,380.78 L482.54,379.01 L482.68,377.34 L482.81,375.77 L482.95,374.28 L483.09,372.88 L483.23,371.55 L483.37,370.31 L483.50,369.13 L483.64,368.02 L483.78,366.98 L483.92,365.99 L484.06,365.07 L484.20,364.19 L484.33,363.37 L484.47,362.60 L484.61,361.88 L484.75,361.19 L484.89,360.55 L485.02,359.95 L485.16,359.38 L485.30,358.85 L485.44,358.35 L485.58,357.89 L485.71,357.45 L485.85,357.04 L485.99,356.66 L486.13,356.30 L486.27,355.97 L486.40,355.66 L486.54,355.37 L486.68,355.10 L486.82,354.85 L486.96,354.61 L487.10,354.40 L487.23,354.20 L487.37,354.01 L487.51,353.84 L487.65,353.69 L487.79,353.54 L487.92,353.41 L488.06,353.29 L488.20,353.19 L488.34,353.09 L488.48,353.00 L488.61,352.92 L488.75,352.85 L488.89,352.79 L489.03,352.73 L489.17,352.69 L489.31,352.65 L489.44,352.61 L489.58,352.59 L489.72,352.57 L489.86,352.55 L490.00,352.54 L490.13,352.54 L490.27,352.54 L490.41,352.54 L490.55,352.55 L490.69,352.56 L490.82,352.58 L490.96,352.60 L491.10,352.62 L491.24,352.65 L491.38,352.68 L491.51,352.71 L491.65,352.75 L491.79,352.78 L491.93,352.82 L492.07,352.87 L492.21,352.91 L492.34,352.96 L492.48,353.01 L492.62,353.06 L492.76,353.11 L492.90,353.16 L493.03,353.22 L493.17,353.28 L493.31,353.33 L493.45,353.39 L493.59,353.45 L493.72,353.52 L493.86,353.58 L494.00,353.64 L494.14,353.71 L494.28,353.77 L494.41,353.84 L494.55,353.91 L494.69,353.98 L494.83,354.05 L494.97,354.12 L495.11,354.19 L495.24,354.26 L495.38,354.33 L495.52,354.40 L495.66,354.47 L495.80,354.55 L495.93,354.62 L496.07,354.70 L496.21,354.77 L496.35,354.84 L496.49,354.92 L496.62,354.99 L496.76,355.07 L496.90,355.15 L497.04,355.22 L497.18,355.30 L497.31,355.38 L497.45,355.45 L497.59,355.53 L497.73,355.61 L497.87,355.68 L498.01,355.76 L498.14,355.84 L498.28,355.92 L498.42,355.99 L498.56,356.07 L498.70,356.15 L498.83,356.23 L498.97,356.31 L499.11,356.39 L499.25,356.46 L499.39,356.54 L499.52,356.62 L499.66,356.70 L499.80,356.78 L499.94,356.86 L500.08,356.94 L500.21,357.02 L500.35,357.09 L500.49,357.17 L500.63,357.25 L500.77,357.33 L500.91,357.41 L501.04,357.49 L501.18,357.57 L501.32,357.65 L501.46,357.72 L501.60,357.80 L501.73,357.88 L501.87,357.96 L502.01,358.04 L502.15,358.12 L502.29,358.20 L502.42,358.28 L502.56,358.35 L502.70,358.43 L502.84,358.51 L502.98,358.59 L503.12,358.67 L503.25,358.75 L503.39,358.83 L503.53,358.90 L503.67,358.98 L503.81,359.06 L503.94,359.14 L504.08,359.22 L504.22,359.30 L504.36,359.37 L504.50,359.45 L504.63,359.53 L504.77,359.61 L504.91,359.69 L505.05,359.76 L505.19,359.84 L505.32,359.92 L505.46,360.00 L505.60,360.07 L505.74,360.15 L505.88,360.23 L506.02,360.31 L506.15,360.38 L506.29,360.46 L506.43,360.54 L506.57,360.62 L506.71,360.69 L506.84,360.77 L506.98,360.85 L507.12,360.92 L508.50,361.69 L509.88,362.45 L511.26,363.21 L512.64,363.96 L514.02,364.70 L515.41,365.44 L516.79,366.17 L518.17,366.89 L519.55,367.61 L520.93,368.33 L522.31,369.03 L523.69,369.73 L525.07,370.43 L526.45,371.12 L527.84,371.80 L529.22,372.48 L530.60,373.16 L531.98,373.82 L533.36,374.48 L534.74,375.14 L536.12,375.79 L537.50,376.44 L538.88,377.08 L540.26,377.71 L541.64,378.34 L543.03,378.97 L544.41,379.59 L545.79,380.20 L547.17,380.81 L548.55,381.42 L549.93,382.02 L551.31,382.61 L552.69,383.20 L554.07,383.79 L555.46,384.37 L556.84,384.94 L558.22,385.51 L559.60,386.08 L560.98,386.64 L562.36,387.20 L563.74,387.75 L565.12,388.30 L566.50,388.84 L567.88,389.38 L569.26,389.91 L570.65,390.44 L572.03,390.97 L573.41,391.49 L574.79,392.01 L576.17,392.52 L577.55,393.03 L578.93,393.53 L580.31,394.03 L581.69,394.53 L583.08,395.02 L584.46,395.51 L585.84,395.99 L587.22,396.47 L588.60,396.95 L589.98,397.42 L591.36,397.89 L592.74,398.35 L594.12,398.81 L595.50,399.27 L596.88,399.72 L598.27,400.17 L599.65,400.62 L601.03,401.06 L602.41,401.50 L603.79,401.93 L605.17,402.36 L606.55,402.79 L607.93,403.21 L609.31,403.63 L610.69,404.05 L612.08,404.47 L613.46,404.88 L614.84,405.28 L616.22,405.69 L617.60,406.09 L618.98,406.48 L620.36,406.88 L621.74,407.27 L623.12,407.65 L624.50,408.04 L625.89,408.42 L627.27,408.80 L628.65,409.17 L630.03,409.54 L631.41,409.91 L632.79,410.28 L634.17,410.64 L635.55,411.00 L636.93,411.36 L638.32,411.71 L639.70,412.06 L641.08,412.41 L642.46,412.75 L643.84,413.10 L645.22,413.44 L646.60,413.77 L647.98,414.11 L649.36,414.44 L650.74,414.76 L652.12,415.09 L653.51,415.41 L654.89,415.73 L656.27,416.05 L657.65,416.37 L659.03,416.68 L660.41,416.99 L661.79,417.30 L663.17,417.60 L664.55,417.90 L665.93,418.20 L667.32,418.50 L668.70,418.80 L670.08,419.09 L671.46,419.38 L672.84,419.67 L674.22,419.95 L675.60,420.23 L676.98,420.52 L678.36,420.79" fill="none" stroke="#D01818" stroke-width="2"/>
</svg></body></html>
